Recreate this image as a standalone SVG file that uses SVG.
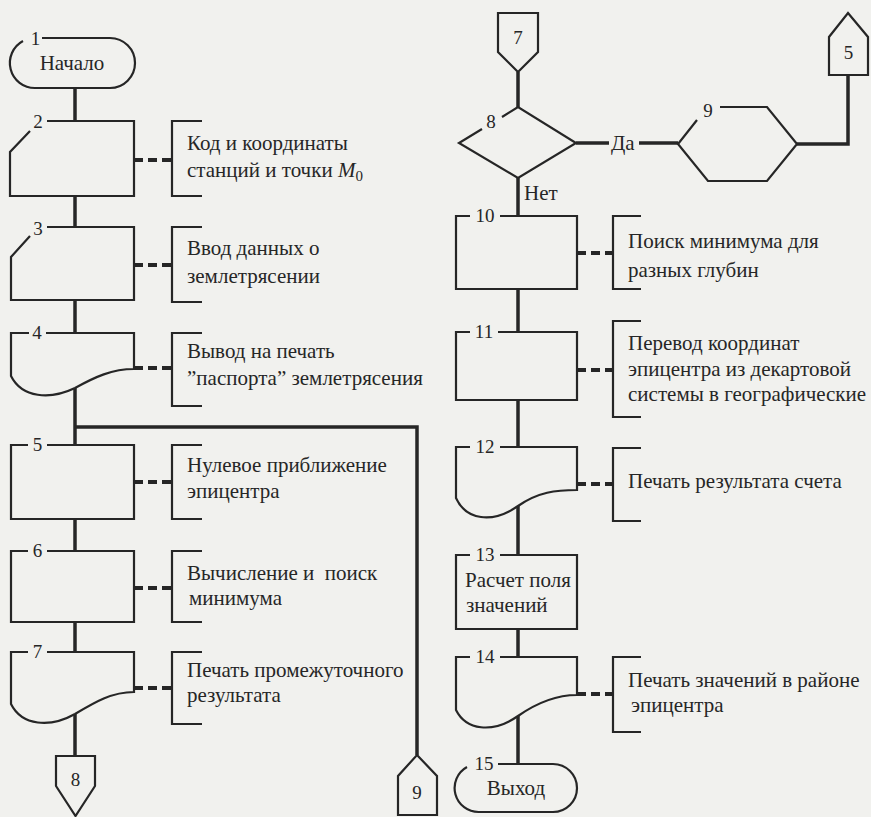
<svg xmlns="http://www.w3.org/2000/svg" width="871" height="817" viewBox="0 0 871 817" font-family="Liberation Serif, Tinos, DejaVu Serif, serif">
  <style>
    .shape { fill: none; stroke: #262626; stroke-width: 2.2; stroke-linejoin: miter; }
    .flow { fill: none; stroke: #262626; stroke-width: 3.5; }
    .dash { fill: none; stroke: #262626; stroke-width: 4; stroke-dasharray: 9 5; }
    .brk { fill: none; stroke: #262626; stroke-width: 2.2; }
    .t { font-size: 21px; fill: #262626; }
    .n { font-size: 19px; fill: #262626; text-anchor: middle; }
    .c { text-anchor: middle; }
  </style>
  <rect x="0" y="0" width="871" height="817" fill="#f1f1ee"/>

  <!-- flow lines and comment links -->
  <g id="connectors">
    <path class="flow" d="M75,88 V121"/>
    <path class="flow" d="M75,196 V227"/>
    <path class="flow" d="M75,300 V333"/>
    <path class="flow" d="M75,388 V445"/>
    <path class="flow" d="M75,427 H417 V755"/>
    <path class="flow" d="M75,519 V551"/>
    <path class="flow" d="M75,622 V652"/>
    <path class="flow" d="M75,714 V756"/>
    <path class="flow" d="M518,72 V107"/>
    <path class="flow" d="M518,178 V216"/>
    <path class="flow" d="M518,289 V332"/>
    <path class="flow" d="M518,400 V447"/>
    <path class="flow" d="M518,506 V555"/>
    <path class="flow" d="M518,629 V657"/>
    <path class="flow" d="M518,716 V764"/>
    <path class="flow" d="M576,143 H609"/>
    <path class="flow" d="M639,143 H678"/>
    <path class="flow" d="M797,144 H848 V75"/>
    <text class="t" x="611" y="150">Да</text>
    <text class="t" x="524" y="200">Нет</text>

    <path class="dash" d="M134,160 H172"/>
    <path class="dash" d="M134,265 H172"/>
    <path class="dash" d="M134,368 H172"/>
    <path class="dash" d="M134,482 H172"/>
    <path class="dash" d="M134,588 H172"/>
    <path class="dash" d="M134,688 H172"/>
    <path class="dash" d="M577,253 H613"/>
    <path class="dash" d="M577,370 H613"/>
    <path class="dash" d="M577,484 H613"/>
    <path class="dash" d="M577,694 H613"/>
  </g>

  <!-- left column -->
  <g id="n1">
    <path class="shape" d="M42,38 H110 A25,25 0 0 1 110,88 H35 A25,25 0 0 1 23,41"/>
    <text class="n" x="35.5" y="45">1</text>
    <text class="t c" x="72" y="70">Начало</text>
  </g>
  <g id="n2">
    <path class="shape" d="M47,121 H134 V196 H10 V152 L30,131"/>
    <text class="n" x="38" y="128">2</text>
    <path class="brk" d="M202,121 H172 V196 H202"/>
    <text class="t" x="187" y="150">Код и координаты</text>
    <text class="t" x="187" y="177">станций и точки <tspan font-style="italic">M</tspan><tspan font-size="15" dy="4">0</tspan></text>
  </g>
  <g id="n3">
    <path class="shape" d="M47,227 H134 V300 H11 V257 L30,236"/>
    <text class="n" x="38" y="235">3</text>
    <path class="brk" d="M202,227 H172 V302 H202"/>
    <text class="t" x="187" y="255">Ввод данных о</text>
    <text class="t" x="187" y="283">землетрясении</text>
  </g>
  <g id="n4">
    <path class="shape" d="M29,333 H11 V376 C22,398 50,400 75,388 C95,377 112,369 134,369 V333 H46"/>
    <text class="n" x="37" y="339">4</text>
    <path class="brk" d="M202,333 H172 V406 H202"/>
    <text class="t" x="187" y="358">Вывод на печать</text>
    <text class="t" x="187" y="385">”паспорта” землетрясения</text>
  </g>
  <g id="n5">
    <path class="shape" d="M28,445 H11 V519 H134 V445 H47"/>
    <text class="n" x="37.5" y="451">5</text>
    <path class="brk" d="M202,445 H172 V519 H202"/>
    <text class="t" x="187" y="472">Нулевое приближение</text>
    <text class="t" x="187" y="498">эпицентра</text>
  </g>
  <g id="n6">
    <path class="shape" d="M28,551 H11 V622 H134 V551 H47"/>
    <text class="n" x="37.5" y="557">6</text>
    <path class="brk" d="M202,551 H172 V622 H202"/>
    <text class="t" x="187" y="580" xml:space="preserve">Вычисление и  поиск</text>
    <text class="t" x="189" y="605">минимума</text>
  </g>
  <g id="n7">
    <path class="shape" d="M28,652 H11 V704 C22,726 50,728 75,714 C95,702 112,692 134,692 V652 H47"/>
    <text class="n" x="37.5" y="658">7</text>
    <path class="brk" d="M202,652 H172 V724 H202"/>
    <text class="t" x="187" y="677">Печать промежуточного</text>
    <text class="t" x="187" y="702">результата</text>
  </g>
  <g id="off8">
    <path class="shape" d="M56,756 H95 V786 L75.5,816 L56,786 Z"/>
    <text class="n" x="75.5" y="786">8</text>
  </g>
  <g id="off9">
    <path class="shape" d="M417,755 L437,776 V815 H398 V776 Z"/>
    <text class="n" x="417" y="799">9</text>
  </g>

  <!-- right column -->
  <g id="off7">
    <path class="shape" d="M498,13 H538 V52 L518,72 L498,52 Z"/>
    <text class="n" x="518" y="44">7</text>
  </g>
  <g id="off5">
    <path class="shape" d="M848,13 L868,37 V75 H829 V37 Z"/>
    <text class="n" x="848.5" y="59">5</text>
  </g>
  <g id="n8">
    <path class="shape" d="M502,117 L518,107 L576,143 L518,178 L459,143 L482,129"/>
    <text class="n" x="491" y="128">8</text>
  </g>
  <g id="n9">
    <path class="shape" d="M697,120 L678,144 L708,181 L767,181 L797,144 L767,107 L720,107"/>
    <text class="n" x="708" y="117">9</text>
  </g>
  <g id="n10">
    <path class="shape" d="M470,216 H456 V289 H577 V216 H500"/>
    <text class="n" x="485" y="222">10</text>
    <path class="brk" d="M641,216 H613 V289 H641"/>
    <text class="t" x="628" y="248">Поиск минимума для</text>
    <text class="t" x="628" y="277">разных глубин</text>
  </g>
  <g id="n11">
    <path class="shape" d="M470,332 H456 V400 H577 V332 H498"/>
    <text class="n" x="484" y="338">11</text>
    <path class="brk" d="M641,321 H613 V417 H641"/>
    <text class="t" x="628" y="350">Перевод координат</text>
    <text class="t" x="628" y="376">эпицентра из декартовой</text>
    <text class="t" x="628" y="401">системы в географические</text>
  </g>
  <g id="n12">
    <path class="shape" d="M470,447 H456 V498 C466,520 492,524 518,506 C538,492 556,490 577,490 V447 H500"/>
    <text class="n" x="485" y="453">12</text>
    <path class="brk" d="M641,448 H613 V521 H641"/>
    <text class="t" x="628" y="488">Печать результата счета</text>
  </g>
  <g id="n13">
    <path class="shape" d="M470,555 H456 V629 H577 V555 H500"/>
    <text class="n" x="485" y="561">13</text>
    <text class="t" x="465" y="587">Расчет поля</text>
    <text class="t" x="466" y="612">значений</text>
  </g>
  <g id="n14">
    <path class="shape" d="M470,657 H456 V710 C466,730 492,734 518,716 C538,702 556,695 577,695 V657 H500"/>
    <text class="n" x="485" y="663">14</text>
    <path class="brk" d="M641,657 H613 V732 H641"/>
    <text class="t" x="628" y="687">Печать значений в районе</text>
    <text class="t" x="631" y="712">эпицентра</text>
  </g>
  <g id="n15">
    <path class="shape" d="M498,764 H553 A24,24 0 0 1 553,812 H479 A24,24 0 0 1 467,767"/>
    <text class="n" x="484" y="770">15</text>
    <text class="t c" x="516" y="795">Выход</text>
  </g>
</svg>
